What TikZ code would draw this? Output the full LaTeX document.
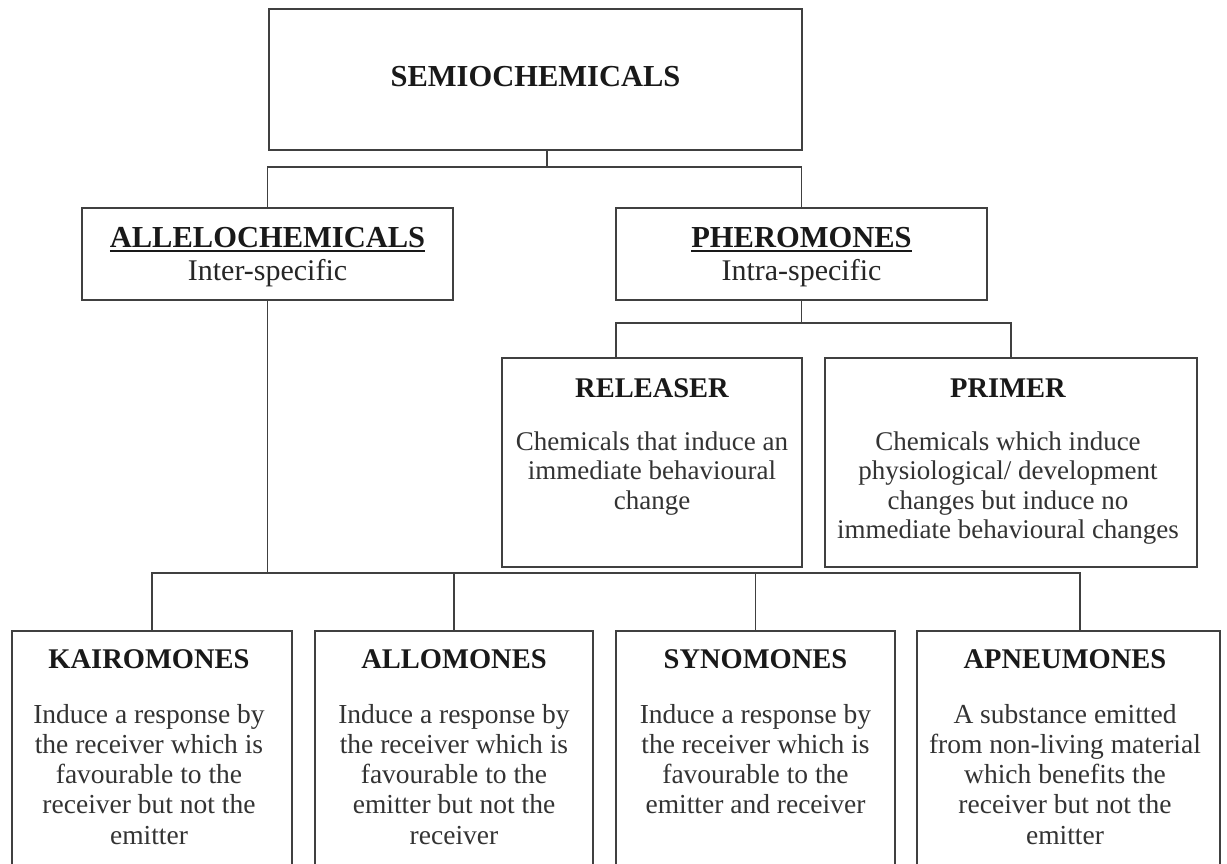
\documentclass[tikz,border=0pt]{standalone}
\usepackage{fontspec}
\setmainfont{Liberation Serif}
\newcommand\myul[1]{\setbox0\hbox{#1}\rlap{\rule[-5pt]{\wd0}{2pt}}\box0}
\begin{document}
\begin{tikzpicture}[x=1pt,y=-1pt,
  box/.style={draw=black!75, line width=1.8pt, inner sep=0pt, outer sep=0pt},
  link/.style={draw=black!75, line width=1.9pt},
  title/.style={anchor=base, inner sep=0pt, font=\fontsize{30.5}{32}\selectfont\bfseries, text=black!90},
  head/.style={anchor=base, inner sep=0pt, font=\fontsize{28.5}{30}\selectfont\bfseries, text=black!90},
  sub/.style={anchor=base, inner sep=0pt, font=\fontsize{30}{32}\selectfont, text=black!85},
  body/.style={anchor=base, inner sep=0pt, font=\fontsize{27.5}{30.3}\selectfont, text=black!80},
  pbody/.style={anchor=base, inner sep=0pt, font=\fontsize{27}{29.5}\selectfont, text=black!80}]
\useasboundingbox (0,0) rectangle (1227,863);
\fill[white] (0,0) rectangle (1227,863);

% boxes
\node[box, minimum width=533pt, minimum height=141pt] (semio) at (535.5,79.5) {};
\node[box, minimum width=371pt, minimum height=92pt] (allelo) at (267.5,254) {};
\node[box, minimum width=371pt, minimum height=92pt] (phero) at (801.5,254) {};
\node[box, minimum width=300pt, minimum height=209pt] (releaser) at (652,462.5) {};
\node[box, minimum width=372pt, minimum height=209pt] (primer) at (1011,462.5) {};
\node[box, minimum width=280pt, minimum height=235pt] (kairo) at (152,748.5) {};
\node[box, minimum width=278pt, minimum height=235pt] (allo) at (454,748.5) {};
\node[box, minimum width=279pt, minimum height=235pt] (syno) at (755.5,748.5) {};
\node[box, minimum width=303pt, minimum height=235pt] (apneu) at (1068.5,748.5) {};

% connectors
\coordinate (j1) at (547,167);
\draw[link] (semio.south -| j1) -- (j1);
\draw[link] (allelo.north) |- (j1) -| (phero.north);
\coordinate (j2) at (801.5,323);
\draw[link] (phero.south) -- (j2);
\draw[link] (releaser.north -| phero.west) |- (j2) -| (primer.north);
\coordinate (j3) at (267.5,573);
\coordinate (apin) at (1080,631);
\draw[link] (allelo.south) -- (j3);
\draw[link] (kairo.north) |- (apin |- j3) -- (apin);
\draw[link] (allo.north) -- (allo.north |- j3);
\draw[link] (syno.north) -- (syno.north |- j3);

% texts
\node[title] (semioT) at (535.5,86) {SEMIOCHEMICALS};
\node[title] (alleloT) at (267.5,247) {\myul{ALLELOCHEMICALS}};
\node[sub] (alleloS) at (267.5,280) {Inter-specific};
\node[title] (pheroT) at (801.5,247) {\myul{PHEROMONES}};
\node[sub] (pheroS) at (801.5,280) {Intra-specific};

\node[head] (releaserT) at (652,397) {RELEASER};
\node[pbody] (releaserB) at (652,450) {\parbox[t]{400pt}{\centering Chemicals that induce an\\immediate behavioural\\change}};
\node[head] (primerT) at (1008,397) {PRIMER};
\node[pbody] (primerB) at (1008,450) {\parbox[t]{400pt}{\centering Chemicals which induce\\physiological/ development\\changes but induce no\\immediate behavioural changes}};

\node[head] (kairoT) at (149,668) {KAIROMONES};
\node[body] (kairoB) at (149,723) {\parbox[t]{400pt}{\centering Induce a response by\\the receiver which is\\favourable to the\\receiver but not the\\emitter}};
\node[head] (alloT) at (454,668) {ALLOMONES};
\node[body] (alloB) at (454,723) {\parbox[t]{400pt}{\centering Induce a response by\\the receiver which is\\favourable to the\\emitter but not the\\receiver}};
\node[head] (synoT) at (755.5,668) {SYNOMONES};
\node[body] (synoB) at (755.5,723) {\parbox[t]{400pt}{\centering Induce a response by\\the receiver which is\\favourable to the\\emitter and receiver}};
\node[head] (apneuT) at (1065,668) {APNEUMONES};
\node[body] (apneuB) at (1065,723) {\parbox[t]{400pt}{\centering A substance emitted\\from non-living material\\which benefits the\\receiver but not the\\emitter}};
\end{tikzpicture}
\end{document}
